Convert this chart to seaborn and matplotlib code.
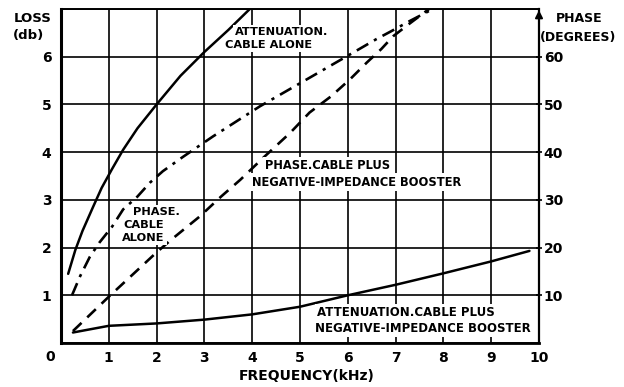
import matplotlib
matplotlib.use("Agg")
import matplotlib.pyplot as plt
import pandas as pd
import seaborn as sns

# ---- data ----
freq_att_alone = [0.15, 0.3, 0.45, 0.67, 0.85, 1.07, 1.3, 1.6, 2.0, 2.5, 3.0, 3.5, 3.95]
loss_att_alone = [1.45, 1.95, 2.35, 2.85, 3.25, 3.65, 4.05, 4.5, 5.0, 5.6, 6.1, 6.56, 7.0]

freq_att_boost = [0.25, 1.0, 2.0, 3.0, 4.0, 5.0, 6.0, 7.0, 8.0, 9.0, 9.8]
loss_att_boost = [0.22, 0.36, 0.41, 0.49, 0.6, 0.76, 1.0, 1.22, 1.46, 1.71, 1.93]

freq_ph_boost = [0.25, 1.0, 2.0, 2.3, 2.9, 3.35, 3.75, 4.25, 4.8, 5.2, 5.65, 6.05, 6.4, 6.7, 6.95, 7.3, 7.7]
deg_ph_boost = [2.5, 9.7, 19.0, 21.6, 26.5, 30.7, 34.2, 39.0, 44.1, 48.3, 51.7, 55.3, 58.8, 61.6, 64.3, 67.0, 70.0]

freq_ph_alone = [0.23, 0.4, 0.6, 0.8, 1.07, 1.3, 1.6, 1.86, 2.13, 2.55, 3.18, 4.16, 5.15, 6.05, 6.6, 6.9, 7.3, 7.78]
deg_ph_alone = [10.0, 14.0, 18.0, 21.0, 24.4, 28.0, 30.7, 33.6, 36.0, 39.0, 43.3, 49.6, 55.3, 60.5, 63.7, 65.3, 67.5, 70.0]

freq_ticks = [0, 1, 2, 3, 4, 5, 6, 7, 8, 9, 10]
freq_labels = ["", "1", "2", "3", "4", "5", "6", "7", "8", "9", "10"]
loss_ticks = [0, 1, 2, 3, 4, 5, 6, 7]
loss_labels = ["", "1", "2", "3", "4", "5", "6", ""]
phase_ticks = [10, 20, 30, 40, 50, 60]
phase_labels = ["10", "20", "30", "40", "50", "60"]

df_att_alone = pd.DataFrame({"f": freq_att_alone, "v": loss_att_alone})
df_att_boost = pd.DataFrame({"f": freq_att_boost, "v": loss_att_boost})
df_ph_boost = pd.DataFrame({"f": freq_ph_boost, "v": deg_ph_boost})
df_ph_alone = pd.DataFrame({"f": freq_ph_alone, "v": deg_ph_alone})

sns.set_theme(style="white")
plt.rcParams["font.family"] = ["DejaVu Sans"]
plt.rcParams["font.weight"] = "bold"

W, H = 624, 387
fig = plt.figure(figsize=(6.24, 3.87), dpi=100)
ax = fig.add_axes([61 / W, 44 / H, 478 / W, 334 / H])
ax2 = ax.twinx()

ax.set_xlim(0, 10)
ax.set_ylim(0, 7)
ax2.set_ylim(0, 70)

# grid
ax.set_xticks(freq_ticks)
ax.set_xticklabels(freq_labels, fontsize=10, fontweight="bold")
ax.set_yticks(loss_ticks)
ax.set_yticklabels(loss_labels, fontsize=10, fontweight="bold")
ax.grid(True, color="black", lw=1.2)
ax.tick_params(axis="both", length=0, colors="black")
ax.tick_params(axis="x", pad=6)
ax.tick_params(axis="y", pad=7)

ax2.set_yticks(phase_ticks)
ax2.set_yticklabels(phase_labels, fontsize=10, fontweight="bold")
ax2.tick_params(axis="y", direction="inout", length=5, width=1.2, pad=1, colors="black")
ax2.grid(False)

for name, sp in ax.spines.items():
    sp.set_color("black")
    sp.set_visible(True)
ax.spines["left"].set_linewidth(2.2)
ax.spines["bottom"].set_linewidth(2.0)
ax.spines["top"].set_linewidth(1.4)
ax.spines["right"].set_linewidth(1.6)
for name, sp in ax2.spines.items():
    sp.set_visible(False)

# curves
sns.lineplot(data=df_att_alone, x="f", y="v", ax=ax, color="black", lw=1.8,
             sort=False, estimator=None)
sns.lineplot(data=df_att_boost, x="f", y="v", ax=ax, color="black", lw=1.8,
             sort=False, estimator=None)
sns.lineplot(data=df_ph_boost, x="f", y="v", ax=ax2, color="black", lw=1.9,
             sort=False, estimator=None, linestyle=(0, (4.5, 3)))
sns.lineplot(data=df_ph_alone, x="f", y="v", ax=ax2, color="black", lw=1.9,
             sort=False, estimator=None, linestyle=(0, (5, 2.5, 1.2, 2.5)))
ax.set_xlabel("")
ax.set_ylabel("")
ax2.set_ylabel("")
ax2.set_xlim(0, 10)

# arrow at top of phase axis
ax2.annotate("", xy=(1, 1.005), xycoords="axes fraction", xytext=(1, 0.95),
             arrowprops=dict(arrowstyle="-|>", color="black", lw=1.4,
                             mutation_scale=11))

def ftext(px, py, s, size, ha="left", bg=False):
    kw = {}
    if bg:
        kw["bbox"] = dict(fc="white", ec="none", pad=1.5)
    fig.text(px / W, 1 - py / H, s, fontsize=size, fontweight="bold",
             ha=ha, va="center", color="black", **kw)

# axis titles
ftext(33, 18, "LOSS", 9.5, ha="center")
ftext(29, 35, "(db)", 9.5, ha="center")
ftext(579, 19, "PHASE", 9, ha="center")
ftext(578, 37, "(DEGREES)", 9, ha="center")
ftext(50, 357, "0", 10, ha="center")
ftext(307, 376, "FREQUENCY(kHz)", 10, ha="center")

# curve labels
ftext(235, 32, "ATTENUATION.", 8.2, bg=True)
ftext(225, 45, "CABLE ALONE", 8.2, bg=True)
ftext(265, 166, "PHASE.CABLE PLUS", 8.3, bg=True)
ftext(252, 182, "NEGATIVE-IMPEDANCE BOOSTER", 8.3, bg=True)
ftext(133, 212, "PHASE.", 8.2, bg=True)
ftext(123, 225, "CABLE", 8.2, bg=True)
ftext(122, 238, "ALONE", 8.2, bg=True)
ftext(317, 313, "ATTENUATION.CABLE PLUS", 8.5, bg=True)
ftext(315, 328, "NEGATIVE-IMPEDANCE BOOSTER", 8.5, bg=True)

fig.savefig("out.png", dpi=100, facecolor="white")
